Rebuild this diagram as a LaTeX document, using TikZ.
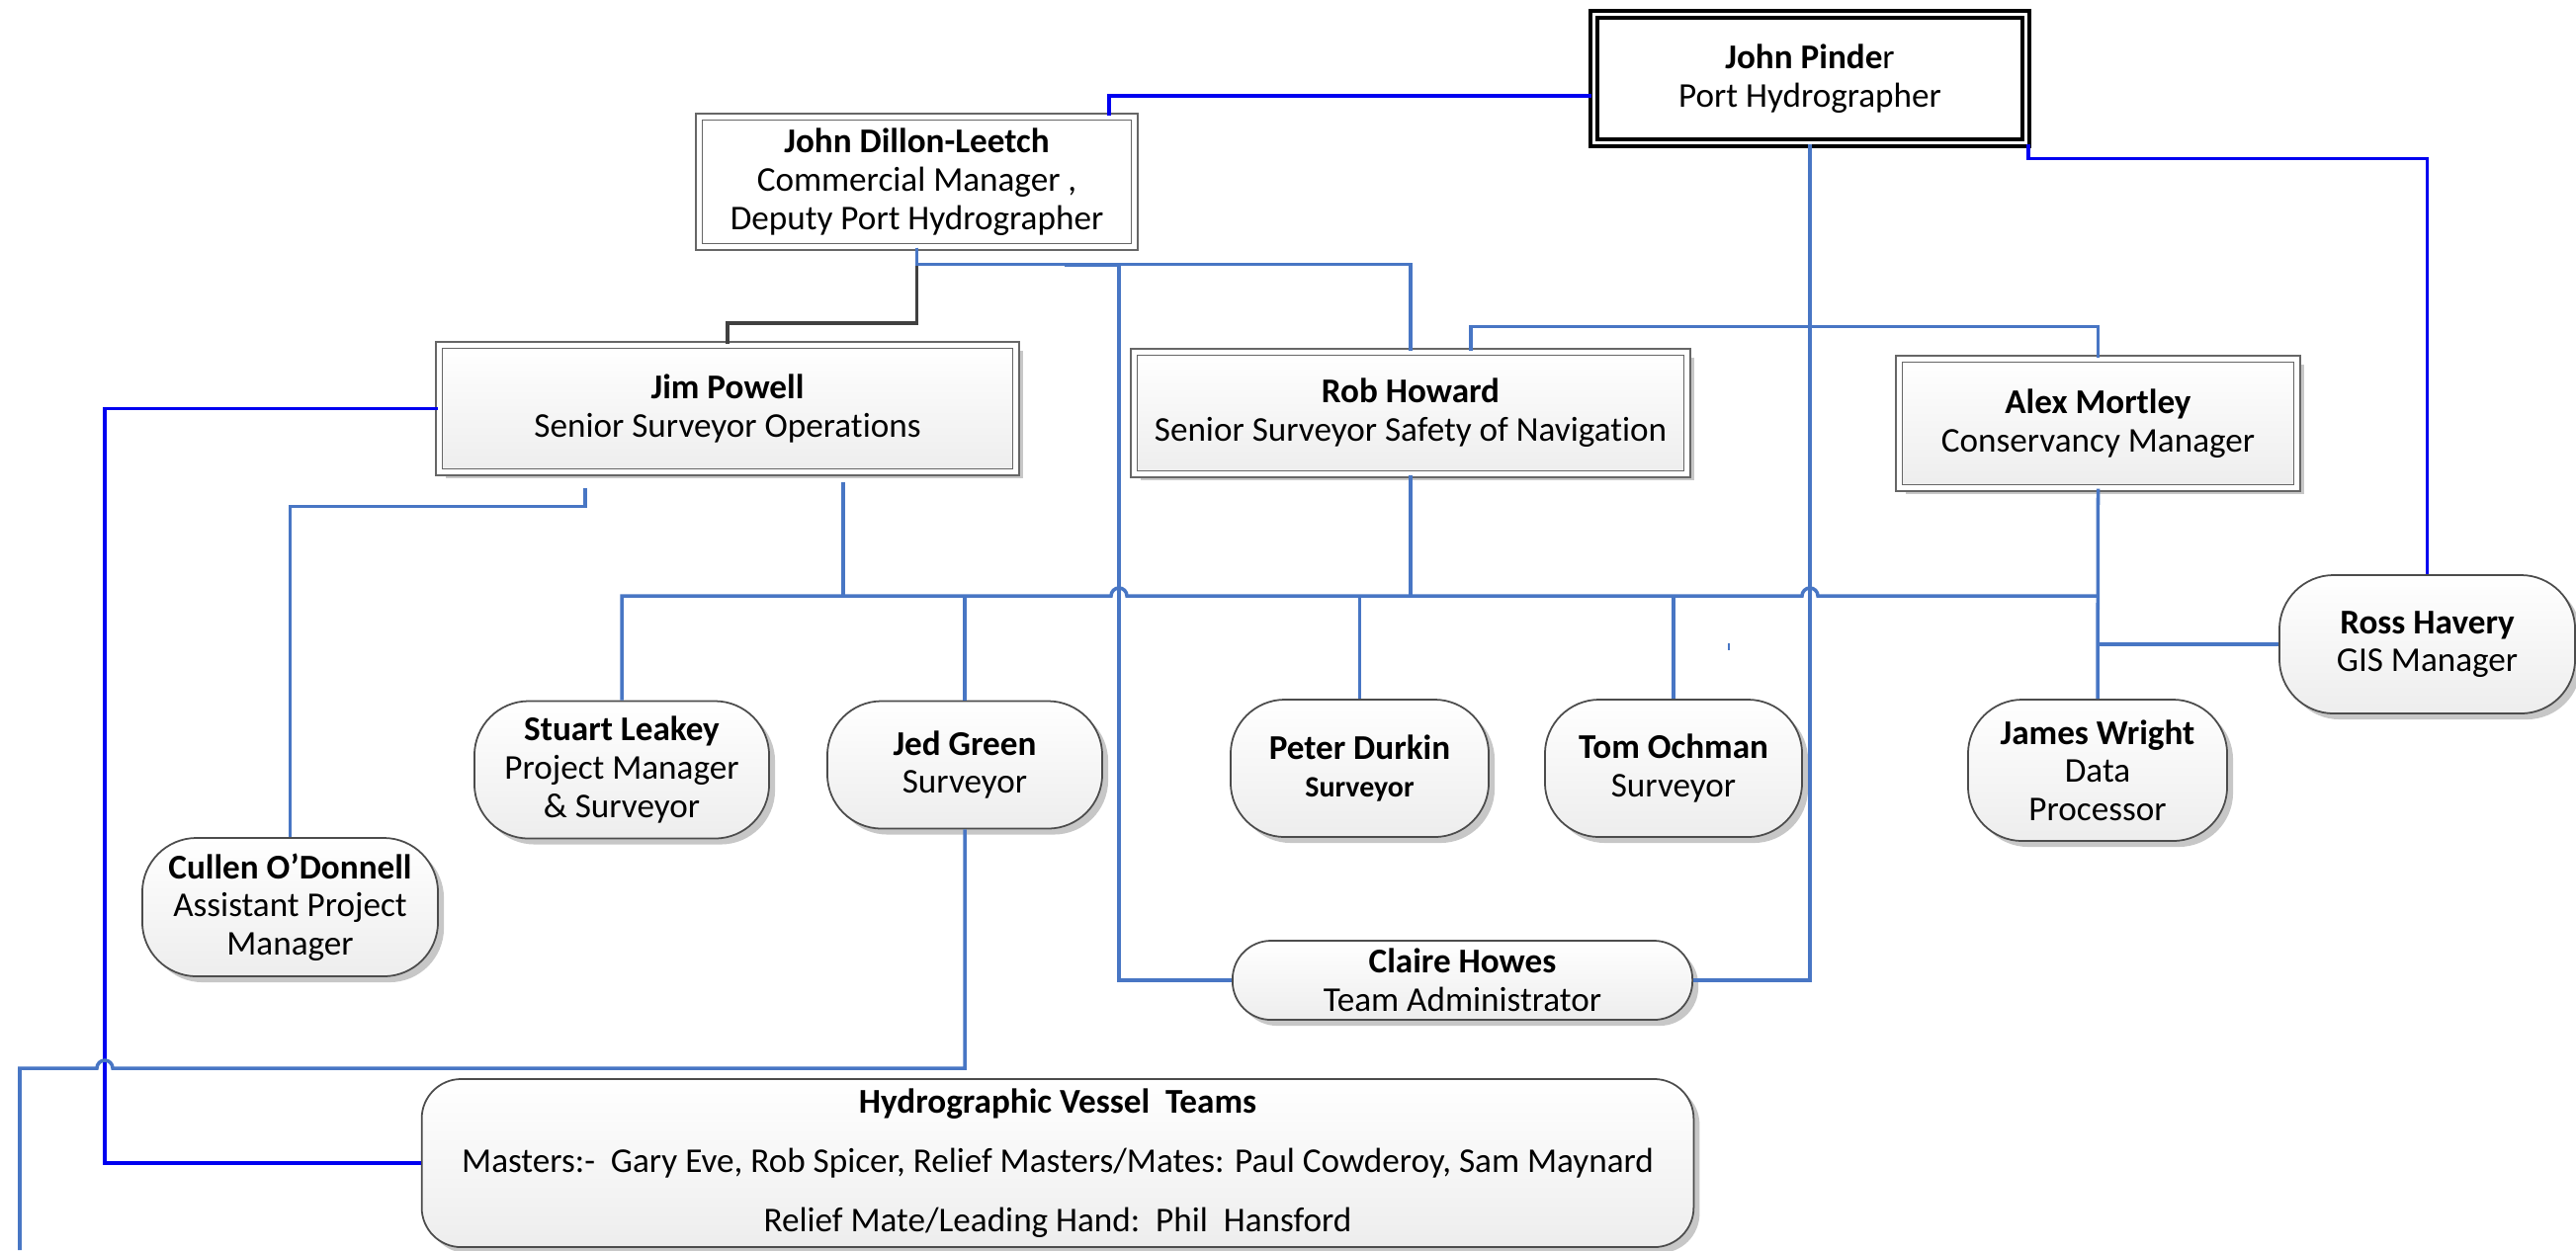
\documentclass[tikz,border=0pt]{standalone}
\usepackage{fontspec}
\setmainfont{Carlito}[Ligatures=NoCommon]
\usetikzlibrary{shadows}

\definecolor{lineblue}{RGB}{72,118,196}
\definecolor{pureblue}{RGB}{0,0,240}

\begin{document}
\begin{tikzpicture}[x=0.01cm, y=-0.01cm,
      every node/.style={font=\fontsize{10}{11}\selectfont, align=center, inner sep=0pt},
      chiefbox/.style={draw=black, line width=1.1pt, double=white, double distance=0.03cm},
      framebox/.style={draw=black!60, line width=0.5pt, double=white, double distance=0.05cm},
      seniorbox/.style={framebox, top color=white, bottom color=black!7,
         drop shadow={shadow xshift=0.07cm, shadow yshift=-0.06cm, fill=black!22, opacity=1}},
      staffbox/.style={draw=black!70, line width=0.5pt, rounded corners=0.55cm,
         top color=white, bottom color=black!7,
         drop shadow={shadow xshift=0.06cm, shadow yshift=-0.06cm, fill=black!22, opacity=1}},
      bline/.style={draw=lineblue, line width=1pt},
      pline/.style={draw=pureblue, line width=1.1pt},
      gline/.style={draw=black!75, line width=1.1pt}]

      \useasboundingbox (0,0) rectangle (2606,1265);

      \def\hop{arc[start angle=180, end angle=360, radius=8]}

      \node[chiefbox, minimum width=4.37cm, minimum height=1.30cm] (pinder) at (1831,79.5)
         {\textbf{John Pinde}r\\Port Hydrographer};

      \node[framebox, minimum width=4.405cm, minimum height=1.315cm] (dillon) at (927.5,184)
         {\textbf{John Dillon-Leetch}\\Commercial Manager ,\\Deputy Port Hydrographer};

      \node[seniorbox, minimum width=5.835cm, minimum height=1.285cm] (jim) at (736,413.5)
         {\textbf{Jim Powell}\\Senior Surveyor Operations};
      \node[seniorbox, minimum width=5.595cm, minimum height=1.235cm] (rob) at (1427,418)
         {\textbf{Rob Howard}\\Senior Surveyor Safety of Navigation};
      \node[seniorbox, minimum width=4.025cm, minimum height=1.305cm] (alex) at (2122.5,428.5)
         {\textbf{Alex Mortley}\\Conservancy Manager};

      \node[staffbox, minimum width=2.98cm, minimum height=1.39cm] (stuart) at (629,779)
         {\textbf{Stuart Leakey}\\Project Manager\\\& Surveyor};
      \node[staffbox, minimum width=2.78cm, minimum height=1.29cm] (jed) at (976,774)
         {\textbf{Jed Green}\\Surveyor};
      \node[staffbox, minimum width=2.99cm, minimum height=1.40cm] (cullen) at (293.5,918)
         {\textbf{Cullen O’Donnell}\\Assistant Project\\Manager};
      \node[staffbox, minimum width=2.61cm, minimum height=1.39cm] (peter) at (1375.5,777.5)
         {\textbf{Peter Durkin}\\{\fontsize{8.5}{10}\selectfont\bfseries Surveyor}};
      \node[staffbox, minimum width=2.60cm, minimum height=1.39cm] (tom) at (1693,777.5)
         {\textbf{Tom Ochman}\\Surveyor};
      \node[staffbox, minimum width=2.62cm, minimum height=1.43cm] (james) at (2122,779.5)
         {\textbf{James Wright}\\Data\\Processor};
      \node[staffbox, minimum width=2.99cm, minimum height=1.40cm] (ross) at (2455.5,652)
         {\textbf{Ross Havery}\\GIS Manager};
      \node[staffbox, rounded corners=0.39cm, minimum width=4.65cm, minimum height=0.80cm] (claire) at (1479.5,992)
         {\textbf{Claire Howes}\\Team Administrator};
      \node[staffbox, rounded corners=0.4cm, minimum width=12.86cm, minimum height=1.70cm] (vessel) at (1070,1177)
         {\textbf{Hydrographic Vessel\ \ Teams}\\[6pt]
          Masters:-\ \ Gary Eve, Rob Spicer, Relief Masters/Mates: Paul Cowderoy, Sam Maynard\\[6pt]
          Relief Mate/Leading Hand:\ \ Phil\ \ Hansford};

      \coordinate (bus) at (0,603);
      \coordinate (cturn) at (1132,268);
      \coordinate (cend) at (1077,268);
      \coordinate (vleft) at (106,0);
      \coordinate (vturn) at (20,1081);
      \coordinate (vend) at (20,1265);

      \draw[pline] ([xshift=1.945cm]dillon.north) |- ([yshift=-0.175cm]pinder.west);

      \draw[pline] (pinder.south east) -- ++(0,14) -| (ross.north);

      \draw[bline] (pinder.south) |- (claire.east);

      \draw[bline] (claire.west) -| (cturn) -- (cend);

      \draw[gline] (dillon.south) -- ++(0,76) -| (jim.north);

      \draw[bline] (dillon.south) -- ++(0,17) -| (rob.north);

      \draw[bline] ([xshift=0.61cm]rob.north) -- ++(0,-25) -| (alex.north);

      \draw[bline] (stuart.north) |- (1124,603) \hop -- (1823,603) \hop -- (james.north |- bus);

      \draw[bline] ([xshift=1.17cm,yshift=-0.09cm]jim.south) -- ([xshift=1.17cm]jim.south |- bus);

      \draw[bline] (rob.south) -- (rob.south |- bus);

      \draw[bline] (alex.south) -- (james.north);

      \draw[bline] (ross.west) -- (ross.west -| james.north);

      \draw[bline] (jed.north) -- (jed.north |- bus);

      \draw[bline] (peter.north) -- (peter.north |- bus);

      \draw[bline] (tom.north) -- (tom.north |- bus);

      \draw[bline] ([xshift=-1.44cm,yshift=-0.15cm]jim.south) -- ++(0,19) -| (cullen.north);

      \draw[pline] (jim.west) -| (vleft |- vessel.west) -- (vessel.west);

      \draw[bline] (jed.south) |- (114,1081) arc[start angle=0, end angle=-180, radius=8] -- (vturn) -- (vend);

      \draw[bline, line width=0.6pt] (1749,651) -- (1749,658);

   \end{tikzpicture}
\end{document}
